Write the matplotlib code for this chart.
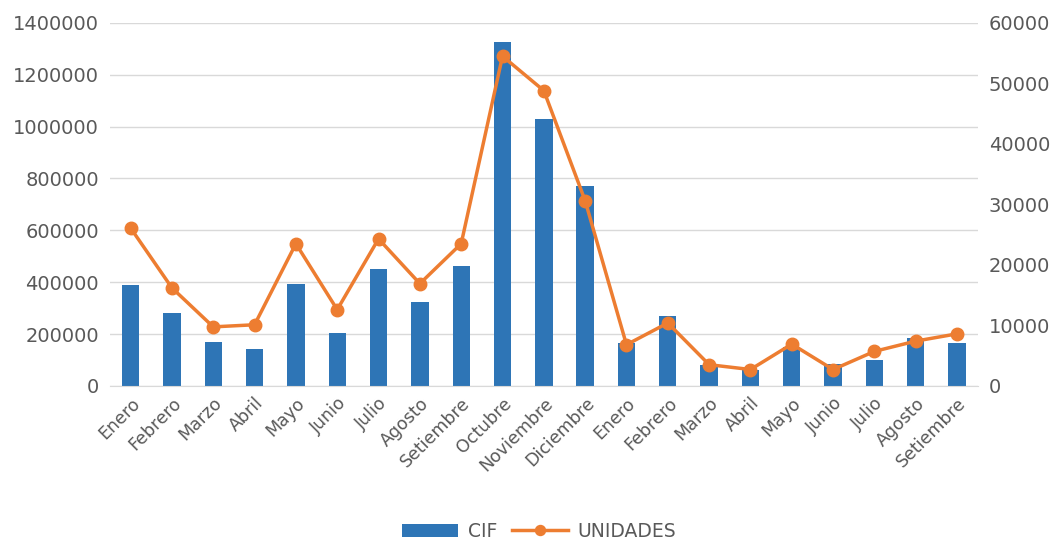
import matplotlib.pyplot as plt
from matplotlib.ticker import FuncFormatter
import numpy as np

meses = ["Enero", "Febrero", "Marzo", "Abril", "Mayo", "Junio", "Julio", "Agosto",
         "Setiembre", "Octubre", "Noviembre", "Diciembre", "Enero", "Febrero", "Marzo",
         "Abril", "Mayo", "Junio", "Julio", "Agosto", "Setiembre"]
cif = [390000, 282000, 170000, 143000, 393000, 205000, 451000, 324000, 463000,
       1327000, 1030000, 771000, 166000, 270000, 81000, 62000, 150000, 85000,
       100000, 185000, 166000]
unidades = [26100, 16200, 9750, 10100, 23500, 12600, 24300, 16900, 23500,
            54500, 48800, 30600, 6800, 10400, 3500, 2700, 6900, 2700,
            5700, 7400, 8600]

gris = "#595959"
fig = plt.figure(figsize=(10.57, 5.45), dpi=100)
ax = fig.add_axes([0.104, 0.292, 0.821, 0.666])
x = np.arange(len(meses))

ax.bar(x, cif, width=0.42, color="#2e75b6", label="CIF", zorder=2)
ax.set_ylim(0, 1400000)
ax.set_yticks(range(0, 1400001, 200000))
ax.yaxis.set_major_formatter(FuncFormatter(lambda v, p: f"{v:.0f}"))
ax.set_xlim(-0.5, len(meses) - 0.5)
ax.set_xticks(x)
ax.set_xticklabels(meses, rotation=45, ha="right", rotation_mode="anchor")
ax.grid(axis="y", color="#d9d9d9", linewidth=1, zorder=0)
ax.set_axisbelow(True)

ax2 = ax.twinx()
ax2.plot(x, unidades, color="#ed7d31", linewidth=2.5, marker="o", markersize=9,
         label="UNIDADES", zorder=3)
ax2.set_ylim(0, 60000)
ax2.set_yticks(range(0, 60001, 10000))

for a in (ax, ax2):
    for s in a.spines.values():
        s.set_visible(False)
    a.tick_params(length=0, labelsize=14, colors=gris, pad=8)
ax.tick_params(axis="x", labelsize=12.5, pad=6)
ax.spines["bottom"].set_visible(True)
ax.spines["bottom"].set_color("#d9d9d9")

h1, l1 = ax.get_legend_handles_labels()
h2, l2 = ax2.get_legend_handles_labels()
fig.legend(h1 + h2, l1 + l2, loc="center", bbox_to_anchor=(0.51, 0.025), ncol=2,
           frameon=False, fontsize=13.5, labelcolor=gris, handlelength=3,
           columnspacing=0.8, handletextpad=0.5, markerscale=0.8)

fig.savefig("out.png", dpi=100)
